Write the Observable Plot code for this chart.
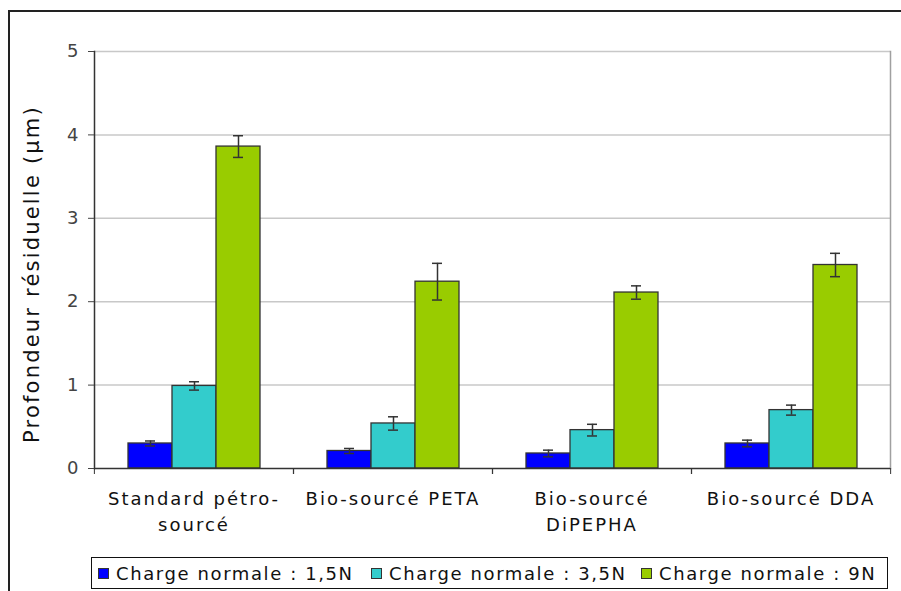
<!DOCTYPE html>
<html>
<head>
<meta charset="utf-8">
<script src="https://cdn.jsdelivr.net/npm/d3@7"></script>
<script src="https://cdn.jsdelivr.net/npm/@observablehq/plot@0.6"></script>
<style>
  html, body { margin: 0; padding: 0; background: #fff; overflow: hidden; width: 901px; height: 591px; }
  #frame { position: absolute; left: 8px; top: 10px; width: 1000px; height: 1000px; border: 2px solid #222; box-sizing: border-box; }
  #chart { position: absolute; left: 0; top: 0; }
  #legend { position: absolute; left: 91px; top: 557px; width: 797px; height: 32px; border: 1px solid #111; box-sizing: border-box;
            font-family: "DejaVu Sans", sans-serif; font-size: 18px; letter-spacing: 1.6px; color: #111; background: #fff; }
  .item { position: absolute; top: 0; height: 30px; display: flex; align-items: center; white-space: nowrap; }
  .sw { width: 9px; height: 9px; border: 1px solid #333; margin-right: 7px; }
</style>
</head>
<body>
<div id="frame"></div>
<div id="chart"></div>
<div id="legend"></div>
<script>
const categories = ["Standard pétro-sourcé", "Bio-sourcé PETA", "Bio-sourcé DiPEPHA", "Bio-sourcé DDA"];
const tickLabels = ["Standard pétro-\nsourcé", "Bio-sourcé PETA", "Bio-sourcé\nDiPEPHA", "Bio-sourcé DDA"];
const series = ["Charge normale : 1,5N", "Charge normale : 3,5N", "Charge normale : 9N"];
const colors = ["#0000ff", "#33cccc", "#99cc00"];
const values15 = [0.30, 0.21, 0.18, 0.30];
const errors15 = [0.03, 0.03, 0.04, 0.04];
const values35 = [0.99, 0.54, 0.46, 0.70];
const errors35 = [0.05, 0.08, 0.07, 0.06];
const values9 = [3.86, 2.24, 2.11, 2.44];
const errors9 = [0.13, 0.22, 0.08, 0.14];
const yTicks = [0, 1, 2, 3, 4, 5];
const yTitle = "Profondeur résiduelle (µm)";

const valueSets = [values15, values35, values9];
const errorSets = [errors15, errors35, errors9];
const data = [];
categories.forEach((c, i) => {
  series.forEach((s, j) => {
    const v = valueSets[j][i], e = errorSets[j][i];
    data.push({cat: c, series: s, value: v, lo: v - e, hi: v + e});
  });
});

const W = 901, H = 545, mL = 93, mR = 11, mT = 51, mB = 77;
const bw = (W - mL - mR) / categories.length;

const chart = Plot.plot({
  width: W, height: H,
  marginLeft: mL, marginRight: mR, marginTop: mT, marginBottom: mB,
  style: {fontFamily: "DejaVu Sans, sans-serif", background: "transparent", overflow: "visible"},
  fx: {domain: categories, paddingInner: 0, paddingOuter: 0, axis: null, label: null},
  x: {domain: series, paddingInner: 0, paddingOuter: 0.74, axis: null},
  y: {domain: [0, 5], axis: null},
  color: {domain: series, range: colors},
  marks: [
    Plot.gridY(yTicks.slice(1), {stroke: "#c8c8c8", strokeOpacity: 1, strokeWidth: 1.5}),
    Plot.frame({anchor: "right", facetAnchor: "right", stroke: "#a0a0a0", strokeWidth: 1.5}),
    Plot.barY(data, {fx: "cat", x: "series", y: "value", fill: "series", stroke: "#333", strokeWidth: 1.3}),
    Plot.ruleX(data, {fx: "cat", x: "series", y1: "lo", y2: "hi", stroke: "#333", strokeWidth: 1.5}),
    Plot.tickY(data, {fx: "cat", x: "series", y: "hi", stroke: "#333", strokeWidth: 1.5, insetLeft: 17, insetRight: 17}),
    Plot.tickY(data, {fx: "cat", x: "series", y: "lo", stroke: "#333", strokeWidth: 1.5, insetLeft: 17, insetRight: 17}),
    Plot.ruleY([0], {stroke: "#333", strokeWidth: 1.5}),
    Plot.frame({anchor: "left", facetAnchor: "left", stroke: "#333", strokeWidth: 1.5}),
    Plot.axisY({ticks: yTicks, tickSize: 6, tickPadding: 10, tickFormat: d3.format("d"), fontSize: 18, color: "#444", label: null, facetAnchor: "left"}),
    Plot.text([yTitle], {frameAnchor: "left", textAnchor: "middle", rotate: -90, dx: -62, dy: 14, fontSize: 21, fill: "#111", facetAnchor: "left", className: "ytitle"}),
    Plot.axisFx({anchor: "bottom", tickSize: 0, tickPadding: 18, tickFormat: c => tickLabels[categories.indexOf(c)], fontSize: 18, lineHeight: 1.45, fill: "#111", label: null, className: "fxlabels"}),
    Plot.axisFx({anchor: "bottom", tickSize: 6, tickFormat: () => "", dx: -bw / 2, stroke: "#333", label: null}),
    Plot.axisFx({anchor: "bottom", tickSize: 6, tickFormat: () => "", dx: bw / 2, stroke: "#333", label: null})
  ]
});
d3.select(chart).selectAll(".fxlabels text").style("letter-spacing", "2px");
d3.select(chart).selectAll(".ytitle text").style("letter-spacing", "2.2px");
document.getElementById("chart").appendChild(chart);

const legend = document.getElementById("legend");
const legendOffsets = [6, 279, 549];
series.forEach((s, j) => {
  const item = document.createElement("div");
  item.className = "item";
  item.style.left = legendOffsets[j] + "px";
  const sw = document.createElement("div");
  sw.className = "sw";
  sw.style.background = colors[j];
  const t = document.createElement("span");
  t.textContent = s;
  item.appendChild(sw);
  item.appendChild(t);
  legend.appendChild(item);
});
</script>
</body>
</html>
